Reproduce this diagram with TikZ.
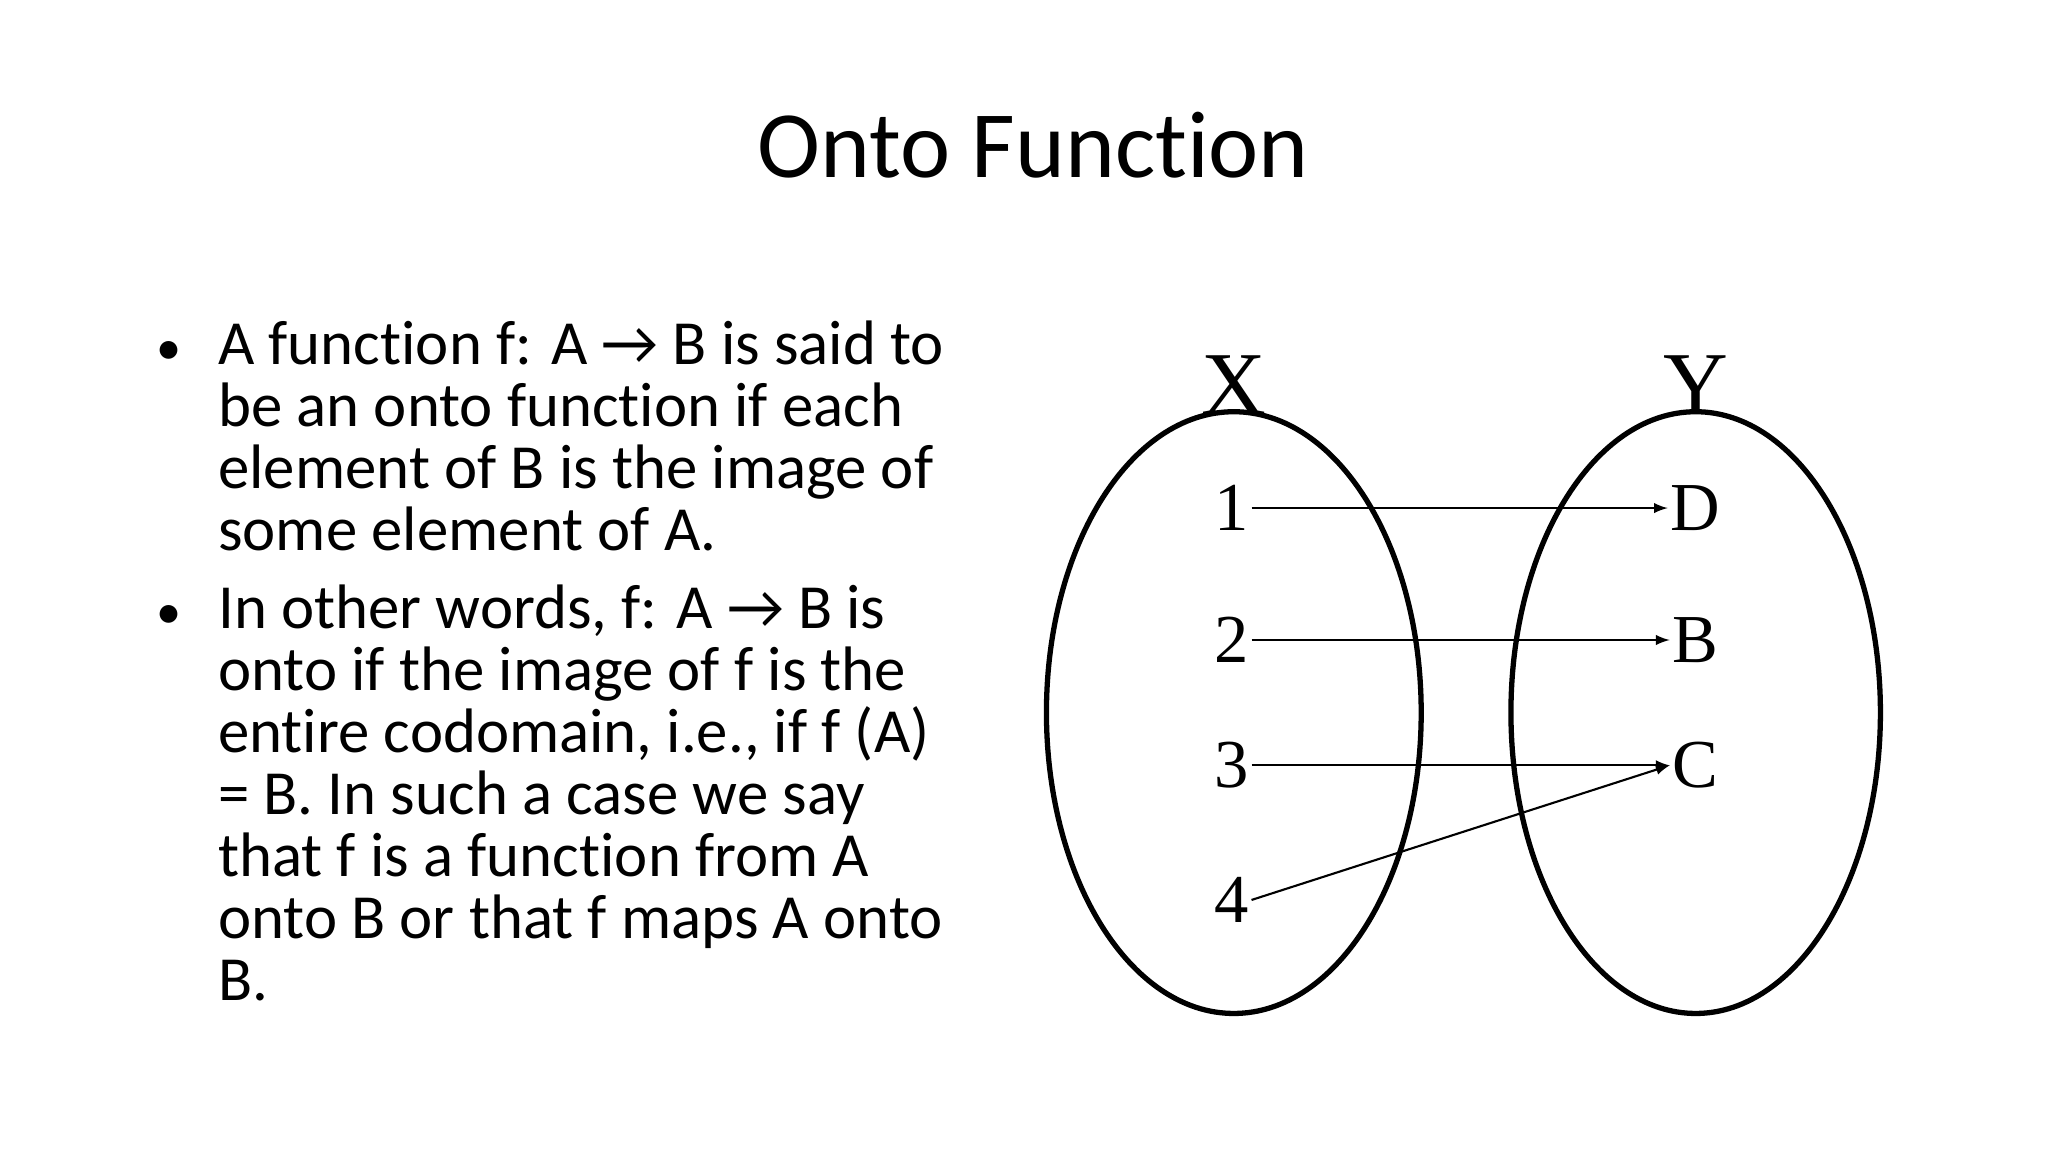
\documentclass[tikz,border=0pt]{standalone}
\usepackage{fontspec}
\setmainfont[Ligatures=NoCommon]{Carlito}
\newfontfamily\serifdiag{Liberation Serif}
\begin{document}
\begin{tikzpicture}[x=0.5pt,y=-0.5pt,
  body/.style={anchor=base west,inner sep=0pt,font=\fontsize{23.8}{23.5}\selectfont},
  setell/.style={draw,line width=2pt},
  elem/.style={font=\serifdiag\fontsize{26}{26}\selectfont,inner sep=1pt},
  setlab/.style={font=\serifdiag\fontsize{34}{34}\selectfont,inner sep=0pt},
  map/.style={line width=0.8pt,-latex}]
\useasboundingbox (0,0) rectangle (1552,873);
\node[inner sep=0pt,font=\fontsize{36}{36}\selectfont] (title) at (783,110) {Onto Function};
% bullets
\node[body] (b1) at (118,276) {\scalebox{0.8}{•}};
\node[body] (b2) at (118,476) {\scalebox{0.8}{•}};
\node[body] (l1) at (165,276) {A function f: A → B is said to};
\node[body] (l2) at (165,323) {be an onto function if each};
\node[body] (l3) at (165,370) {element of B is the image of};
\node[body] (l4) at (165,417) {some element of A.};
\node[body] (l5) at (165,476) {In other words, f: A → B is};
\node[body] (l6) at (165,523) {onto if the image of f is the};
\node[body] (l7) at (165,570) {entire codomain, i.e., if f (A)};
\node[body] (l8) at (165,617) {= B. In such a case we say};
\node[body] (l9) at (165,664) {that f is a function from A};
\node[body] (l10) at (165,711) {onto B or that f maps A onto};
\node[body] (l11) at (165,758) {B.};
% diagram
\draw[setell] (935,540) ellipse [x radius=142,y radius=228];
\draw[setell] (1285,540) ellipse [x radius=140,y radius=228];
\node[setlab] (X) at (935,292) {X};
\node[setlab] (Y) at (1285,292) {Y};
\node[elem] (n1) at (933,385) {1};
\node[elem] (n2) at (933,485) {2};
\node[elem] (n3) at (933,580) {3};
\node[elem] (n4) at (933,682) {4};
\node[elem] (D) at (1285,385) {D};
\node[elem] (B) at (1285,485) {B};
\node[elem] (C) at (1285,580) {C};
\draw[map] (n1.east) -- (D.west);
\draw[map] (n2.east) -- (B.west);
\draw[map] (n3.east) -- (C.west);
\draw[map] (n4.east) -- (C.west);
\end{tikzpicture}
\end{document}
